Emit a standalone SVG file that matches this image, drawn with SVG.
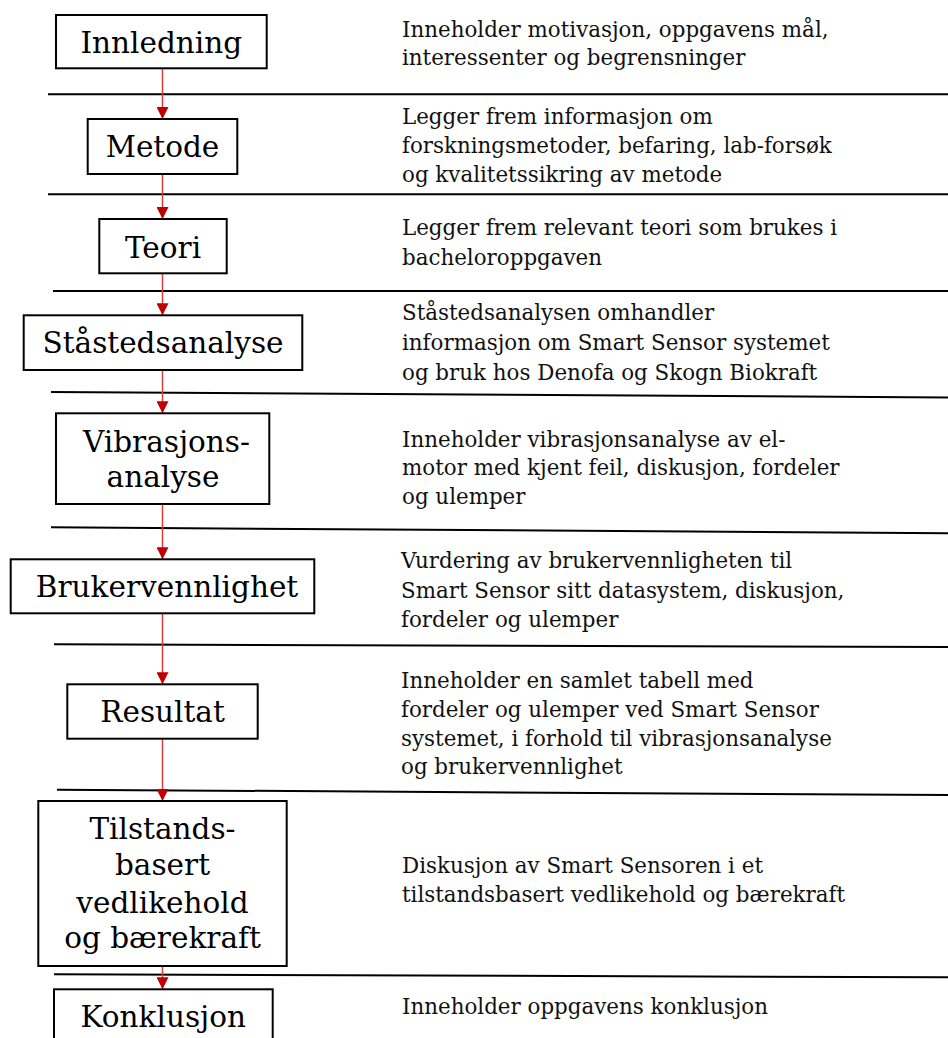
<svg xmlns="http://www.w3.org/2000/svg" width="948" height="1038" viewBox="0 0 948 1038">
<style>
.box{fill:#fff;stroke:#000;stroke-width:2}
.lbl{font-family:"DejaVu Serif","Liberation Serif",serif;font-size:29.5px;fill:#000;text-anchor:middle}
.desc{font-family:"DejaVu Serif","Liberation Serif",serif;font-size:21.4px;fill:#111}
.sep{stroke:#000;stroke-width:2;fill:none}
.conn{stroke:#d04040;stroke-width:1.5;fill:none}
</style>
<defs>
<marker id="ah" markerUnits="userSpaceOnUse" markerWidth="12" markerHeight="12" refX="12" refY="6" orient="auto">
<path d="M0,0 L12,6 L0,12 Z" fill="#c00000"/>
</marker>
</defs>
<rect width="948" height="1038" fill="#fff"/>
<g id="separators">
<line class="sep" x1="48" y1="94.3" x2="948" y2="94.3"/>
<line class="sep" x1="48" y1="194.3" x2="948" y2="194.3"/>
<line class="sep" x1="53" y1="291" x2="948" y2="291"/>
<line class="sep" x1="51" y1="392" x2="948" y2="397.5"/>
<line class="sep" x1="51" y1="527.3" x2="948" y2="533.3"/>
<line class="sep" x1="54" y1="644.3" x2="948" y2="647"/>
<line class="sep" x1="57" y1="789.7" x2="948" y2="795"/>
<line class="sep" x1="54" y1="974.3" x2="948" y2="977.3"/>
</g>
<g id="connectors">
<line class="conn" x1="162.5" y1="68.3" x2="162.5" y2="119" marker-end="url(#ah)"/>
<line class="conn" x1="162.5" y1="174" x2="162.5" y2="219" marker-end="url(#ah)"/>
<line class="conn" x1="162.5" y1="273.3" x2="162.5" y2="315.3" marker-end="url(#ah)"/>
<line class="conn" x1="162.5" y1="370" x2="162.5" y2="413.3" marker-end="url(#ah)"/>
<line class="conn" x1="162.5" y1="504" x2="162.5" y2="559.3" marker-end="url(#ah)"/>
<line class="conn" x1="162.5" y1="613.3" x2="162.5" y2="684.3" marker-end="url(#ah)"/>
<line class="conn" x1="162.5" y1="738.7" x2="162.5" y2="801" marker-end="url(#ah)"/>
<line class="conn" x1="162.5" y1="966" x2="162.5" y2="989.3" marker-end="url(#ah)"/>
</g>
<g id="innledning">
<rect class="box" x="56" y="15" width="210.7" height="53.3"/>
<text class="lbl" x="161.3" y="53.3">Innledning</text>
<text class="desc" x="402" y="36.7">Inneholder motivasjon, oppgavens mål,</text>
<text class="desc" x="402" y="65">interessenter og begrensninger</text>
</g>
<g id="metode">
<rect class="box" x="87.7" y="119" width="149.6" height="55"/>
<text class="lbl" x="162.5" y="157.3">Metode</text>
<text class="desc" x="402" y="124">Legger frem informasjon om</text>
<text class="desc" x="402" y="153.3">forskningsmetoder, befaring, lab-forsøk</text>
<text class="desc" x="402" y="181.7">og kvalitetssikring av metode</text>
</g>
<g id="teori">
<rect class="box" x="99.3" y="219" width="127.4" height="54.3"/>
<text class="lbl" x="163" y="258.3">Teori</text>
<text class="desc" x="402" y="235">Legger frem relevant teori som brukes i</text>
<text class="desc" x="402" y="265">bacheloroppgaven</text>
</g>
<g id="staastedsanalyse">
<rect class="box" x="23.7" y="315.3" width="278.6" height="54.7"/>
<text class="lbl" x="163" y="353.3">Ståstedsanalyse</text>
<text class="desc" x="402" y="320">Ståstedsanalysen omhandler</text>
<text class="desc" x="402" y="350">informasjon om Smart Sensor systemet</text>
<text class="desc" x="402" y="380">og bruk hos Denofa og Skogn Biokraft</text>
</g>
<g id="vibrasjonsanalyse">
<rect class="box" x="56" y="413.3" width="213.3" height="90.7"/>
<text class="lbl" x="166.5" y="451.7">Vibrasjons-</text>
<text class="lbl" x="163" y="487.3">analyse</text>
<text class="desc" x="402" y="446.7">Inneholder vibrasjonsanalyse av el-</text>
<text class="desc" x="402" y="475">motor med kjent feil, diskusjon, fordeler</text>
<text class="desc" x="402" y="504">og ulemper</text>
</g>
<g id="brukervennlighet">
<rect class="box" x="10.7" y="559.3" width="303.6" height="54"/>
<text class="lbl" x="167" y="596.7">Brukervennlighet</text>
<text class="desc" x="401" y="568.3">Vurdering av brukervennligheten til</text>
<text class="desc" x="401" y="598.3">Smart Sensor sitt datasystem, diskusjon,</text>
<text class="desc" x="401" y="626.7">fordeler og ulemper</text>
</g>
<g id="resultat">
<rect class="box" x="67.3" y="684.3" width="190.4" height="54.4"/>
<text class="lbl" x="162.5" y="721.7">Resultat</text>
<text class="desc" x="401" y="688.3">Inneholder en samlet tabell med</text>
<text class="desc" x="401" y="717.3">fordeler og ulemper ved Smart Sensor</text>
<text class="desc" x="401" y="746">systemet, i forhold til vibrasjonsanalyse</text>
<text class="desc" x="401" y="774">og brukervennlighet</text>
</g>
<g id="tilstandsbasert">
<rect class="box" x="38.3" y="801" width="248.4" height="165"/>
<text class="lbl" x="162.5" y="839.3">Tilstands-</text>
<text class="lbl" x="162.5" y="875">basert</text>
<text class="lbl" x="162.5" y="912.7">vedlikehold</text>
<text class="lbl" x="162.5" y="948.3">og bærekraft</text>
<text class="desc" x="402" y="873.3">Diskusjon av Smart Sensoren i et</text>
<text class="desc" x="402" y="901.7">tilstandsbasert vedlikehold og bærekraft</text>
</g>
<g id="konklusjon">
<rect class="box" x="54" y="989.3" width="218.7" height="60"/>
<text class="lbl" x="163.3" y="1026.7">Konklusjon</text>
<text class="desc" x="402" y="1014">Inneholder oppgavens konklusjon</text>
</g>
</svg>
